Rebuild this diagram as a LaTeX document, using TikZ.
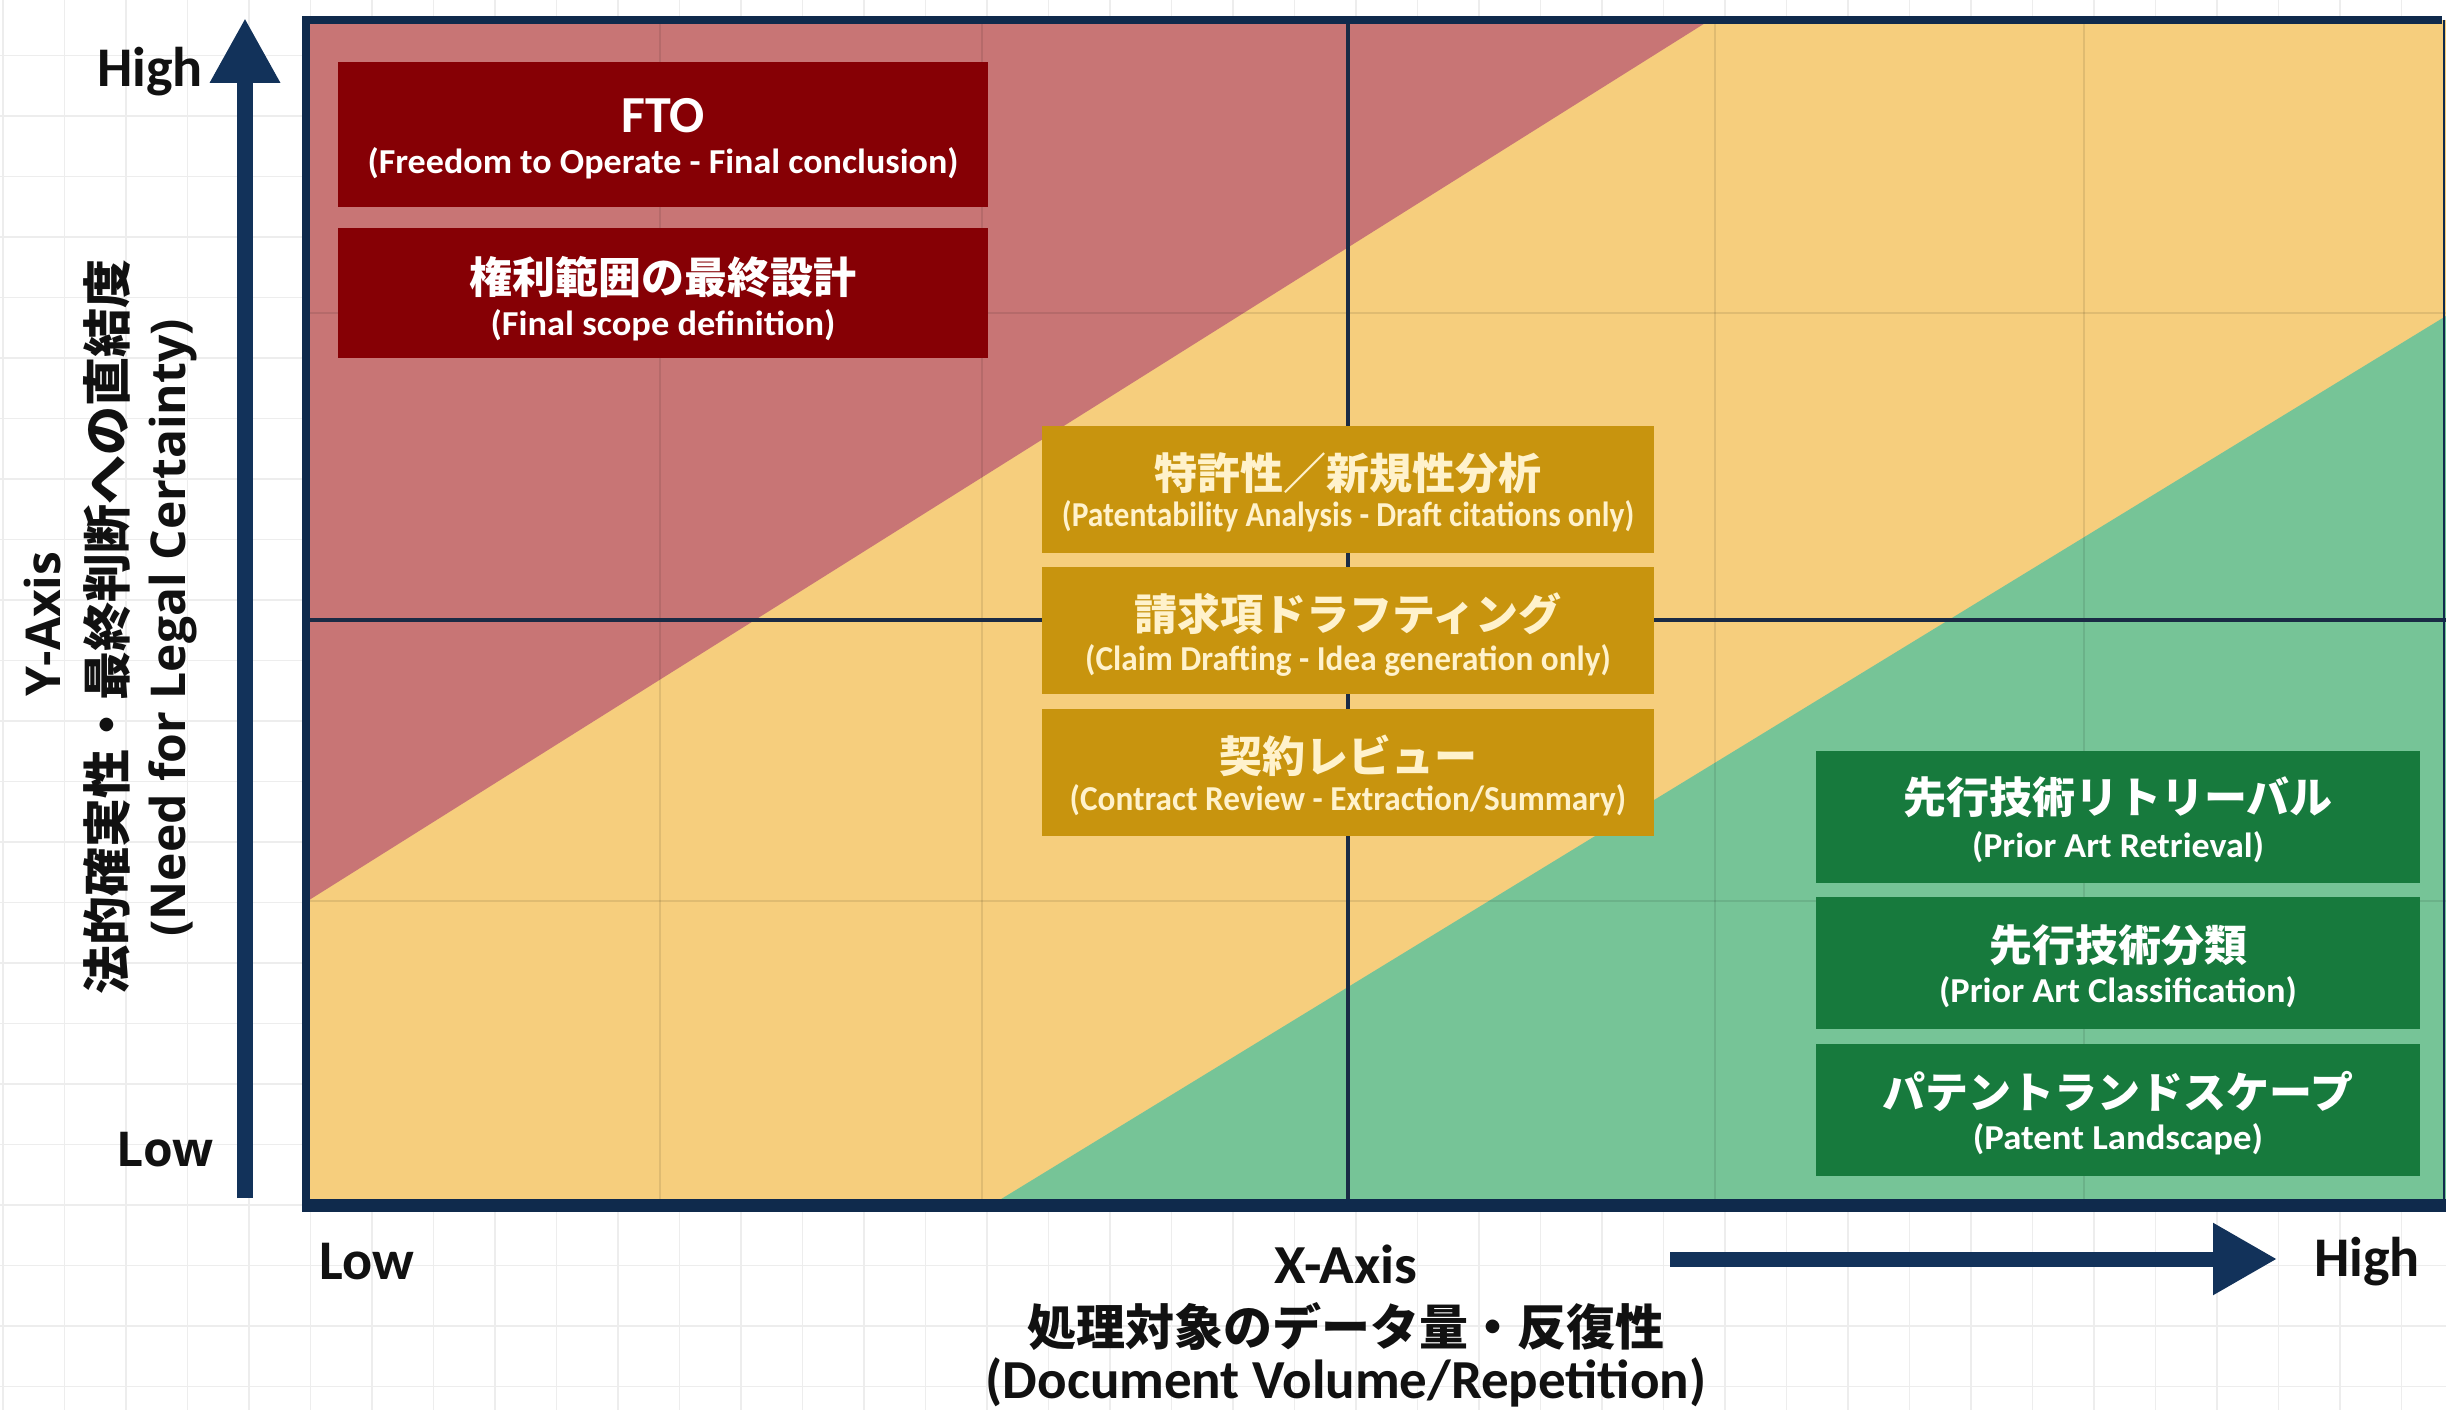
\documentclass[tikz,border=0pt]{standalone}
\usepackage{fontspec}
\setmainfont{Carlito}
\newfontfamily\jp{Noto Sans CJK JP}
\newfontfamily\osans{Open Sans}
\usetikzlibrary{arrows.meta}
\definecolor{navy}{HTML}{12325A}
\definecolor{framenavy}{HTML}{0F2A4C}
\definecolor{midnavy}{HTML}{1A2B45}
\definecolor{zonered}{HTML}{C87575}
\definecolor{zoneyellow}{HTML}{F6CE7D}
\definecolor{zonegreen}{HTML}{76C497}
\definecolor{boxred}{HTML}{860005}
\definecolor{boxgold}{HTML}{C8940E}
\definecolor{boxgreen}{HTML}{177A3D}
\definecolor{cream}{HTML}{FFF2CC}
\definecolor{bggrid}{HTML}{EDEDED}
\definecolor{inkblack}{HTML}{111111}
\newcommand{\sx}[2]{\scalebox{#1}[1]{#2}}
\begin{document}
\begin{tikzpicture}[x=1pt,y=-1pt,
  boxbase/.style={rectangle, inner sep=0pt, outer sep=0pt},
  redbox/.style={boxbase, fill=boxred, minimum width=650pt},
  goldbox/.style={boxbase, fill=boxgold, minimum width=612pt, minimum height=127pt},
  greenbox/.style={boxbase, fill=boxgreen, minimum width=604pt, minimum height=132pt},
  jptitle/.style={inner sep=0pt, font=\jp\bfseries\fontsize{43pt}{50pt}\selectfont},
  entitle/.style={inner sep=0pt, font=\bfseries\fontsize{52pt}{60pt}\selectfont},
  subtext/.style={inner sep=0pt, font=\bfseries\fontsize{35pt}{40pt}\selectfont},
  axislbl/.style={inner sep=0pt, text=inkblack, font=\bfseries\fontsize{56pt}{64pt}\selectfont},
  xlbl/.style={inner sep=0pt, text=inkblack, font=\bfseries\fontsize{55pt}{62pt}\selectfont},
  xjp/.style={inner sep=0pt, text=inkblack, font=\jp\bfseries\fontsize{49pt}{56pt}\selectfont},
  ylbl/.style={inner sep=0pt, text=inkblack, rotate=90, font=\osans\bfseries\fontsize{48pt}{56pt}\selectfont},
  yjp/.style={inner sep=0pt, text=inkblack, rotate=90, font=\jp\bfseries\fontsize{49pt}{56pt}\selectfont},
  faint/.style={black, opacity=0.09, line width=2pt},
  axisarrow/.style={navy, line width=16pt}
]
\useasboundingbox (0,0) rectangle (2446,1410);
\fill[white] (0,0) rectangle (2446,1410);
% faint background grid
\foreach \gx in {3,64.5,...,2446} \draw[bggrid, line width=1.5pt] (\gx,0) -- (\gx,1410);
\foreach \gy in {-5,55.5,...,1410} \draw[bggrid, line width=1.5pt] (0,\gy) -- (2446,\gy);

% plot zones
\begin{scope}
  \clip (306,20) rectangle (2446,1204);
  \fill[zoneyellow] (306,20) rectangle (2446,1204);
  \fill[zonered] (306,20) -- (1710,20) -- (306,902) -- cycle;
  \fill[zonegreen] (993,1204) -- (2446,316) -- (2446,1204) -- cycle;
  \foreach \gx in {660,982,1715,2084} \draw[faint] (\gx,20) -- (\gx,1204);
  \foreach \gy in {313,901} \draw[faint] (306,\gy) -- (2446,\gy);
  \draw[midnavy, line width=4.5pt] (1348,20) -- (1348,1204);
  \draw[midnavy, line width=4pt] (306,620) -- (2446,620);
\end{scope}
\draw[framenavy, line width=8pt] (2442,20) -- (306,20) -- (306,1204);
\draw[framenavy, line width=2pt] (2444,20) -- (2444,1204);
\draw[framenavy, line width=13pt] (302,1205.5) -- (2446,1205.5);

% axes arrows
\coordinate (ystart) at (245,1198);
\coordinate (yend) at (245,18);
\coordinate (xstart) at (1670,1259);
\coordinate (xend) at (2277,1259);
\draw[axisarrow, -{Triangle[width=66pt,length=65pt]}] (ystart) -- (yend);
\draw[axisarrow, line width=15pt, -{Triangle[width=68pt,length=64pt]}] (xstart) -- (xend);

% axis labels
\node[axislbl] (yhigh) at (150,72) {High};
\node[inner sep=0pt, text=inkblack, font=\osans\bfseries\fontsize{48pt}{56pt}\selectfont] (ylow) at (165,1150) {Low};
\node[axislbl] (xlow) at (367,1262) {Low};
\node[axislbl] (xhigh) at (2367,1262) {High};
\node[xlbl] (xaxis) at (1346,1264) {\sx{1.04}{X-Axis}};
\node[xjp] (xjpl) at (1346,1326) {処理対象のデータ量・反復性};
\node[xlbl] (xen) at (1346,1382) {(Document Volume/Repetition)};
\node[ylbl] (yaxis) at (42,624) {Y-Axis};
\node[yjp] (yjpl) at (107,627) {法的確実性・最終判断への直結度};
\node[ylbl] (yen) at (173,628) {(Need for Legal Certainty)};

% red boxes
\node[redbox, minimum height=145pt] (fto) at (663,134.5) {};
\node[entitle, text=white] (ftoT) at (663,116) {FTO};
\node[subtext, text=white] (ftoS) at (663,163) {\sx{1.03}{(Freedom to Operate - Final conclusion)}};
\node[redbox, minimum height=130pt] (scope) at (663,293) {};
\node[jptitle, text=white] (scopeT) at (663,277) {権利範囲の最終設計};
\node[subtext, text=white] (scopeS) at (663,325) {\sx{1.04}{(Final scope definition)}};

% gold boxes
\node[goldbox] (pat) at (1348,489) {};
\node[jptitle, text=cream] (patT) at (1348,473) {特許性／新規性分析};
\node[subtext, text=cream] (patS) at (1348,516) {\sx{0.9}{(Patentability Analysis - Draft citations only)}};
\node[goldbox] (claim) at (1348,630) {};
\node[jptitle, text=cream] (claimT) at (1348,614) {請求項ドラフティング};
\node[subtext, text=cream] (claimS) at (1348,660) {\sx{0.95}{(Claim Drafting - Idea generation only)}};
\node[goldbox] (contract) at (1348,772.5) {};
\node[jptitle, text=cream] (contractT) at (1348,756) {契約レビュー};
\node[subtext, text=cream] (contractS) at (1348,800) {\sx{0.95}{(Contract Review - Extraction/Summary)}};

% green boxes
\node[greenbox] (retr) at (2118,816.5) {};
\node[jptitle, text=white] (retrT) at (2118,797) {先行技術リトリーバル};
\node[subtext, text=white] (retrS) at (2118,847) {\sx{1.03}{(Prior Art Retrieval)}};
\node[greenbox] (cls) at (2118,962.5) {};
\node[jptitle, text=white] (clsT) at (2118,945) {先行技術分類};
\node[subtext, text=white] (clsS) at (2118,992) {\sx{1.04}{(Prior Art Classification)}};
\node[greenbox] (land) at (2118,1109.5) {};
\node[jptitle, text=white] (landT) at (2118,1091) {パテントランドスケープ};
\node[subtext, text=white] (landS) at (2118,1139) {\sx{1.05}{(Patent Landscape)}};
\end{tikzpicture}
\end{document}
